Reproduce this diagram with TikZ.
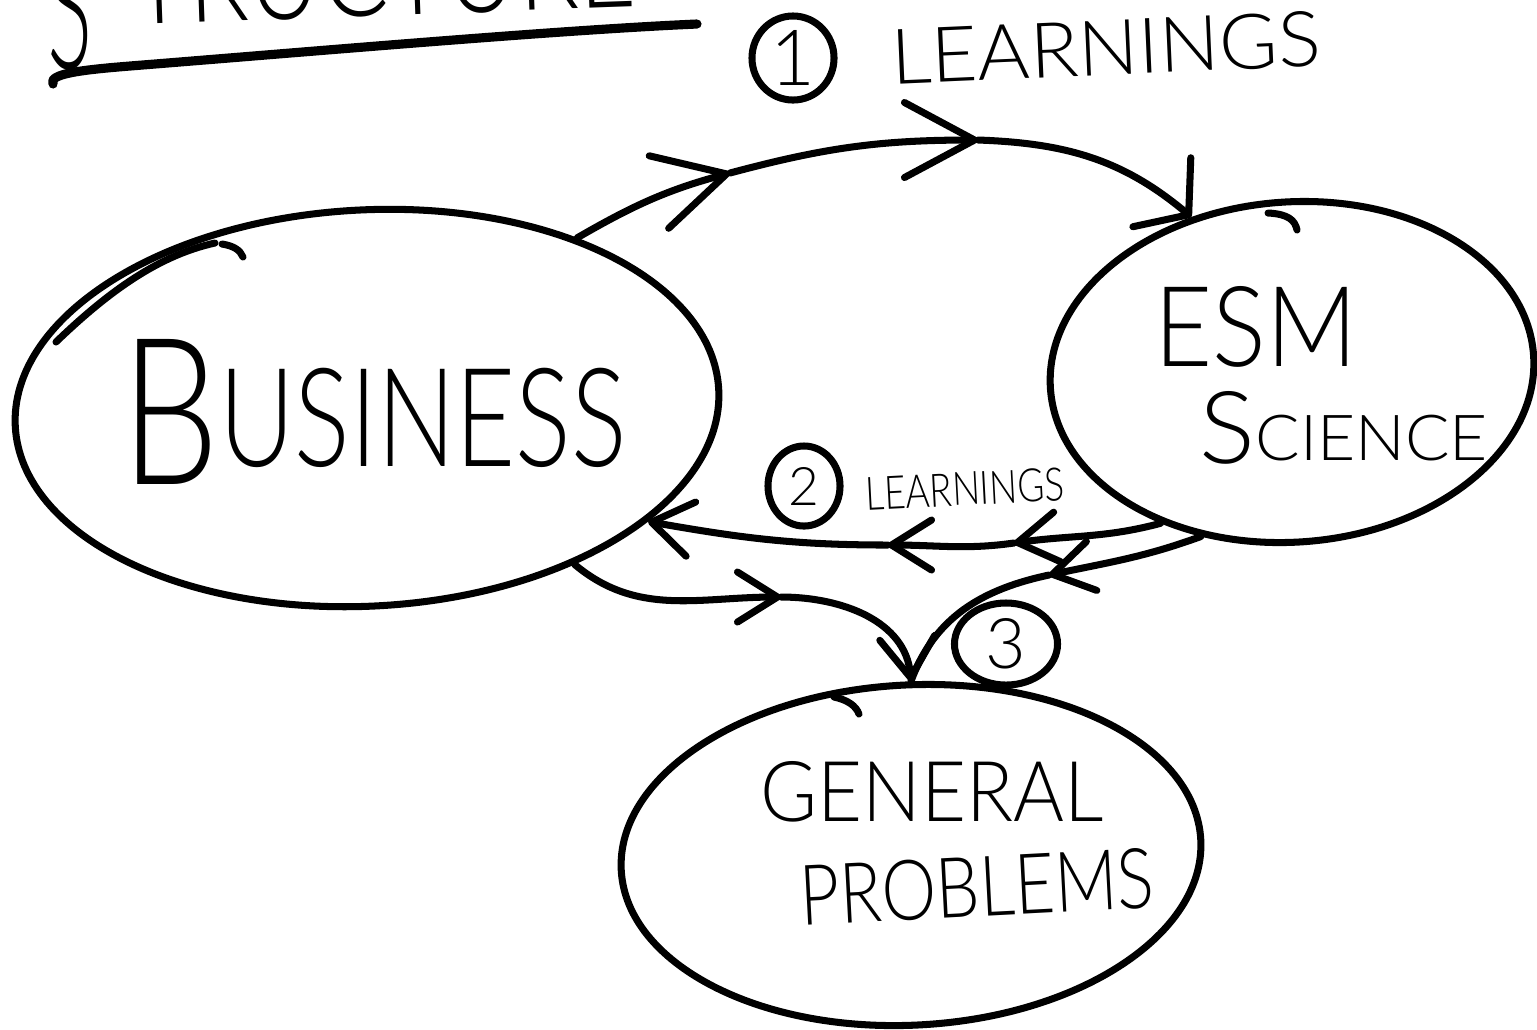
\documentclass[tikz,border=0pt]{standalone}
\usepackage{graphicx}
\usepackage{fontspec}
\newfontfamily\handfont{Lato Light}
\usetikzlibrary{arrows.meta,shapes.geometric}
\tikzset{
  blob/.style={draw, ellipse, inner sep=0pt, line width=2pt},
  lbl/.style={inner sep=0pt, font=\handfont},
  num/.style={draw, ellipse, inner sep=0pt, line width=2pt, font=\handfont},
  wire/.style={line width=2pt, line cap=round, line join=round},
  bigtip/.style={wire, -{Straight Barb[round,length=7mm,width=7.5mm]}},
  smalltip/.style={wire, -{Straight Barb[round,length=4mm,width=5mm]}},
  endtip/.style={wire, -{Straight Barb[round,length=4mm,width=5.5mm]}},
  widetip/.style={wire, -{Straight Barb[round,length=3.5mm,width=9mm]}},
  stroke/.style={line width=2pt, line cap=round, line join=round},
}
\begin{document}
\begin{tikzpicture}[x=0.01cm, y=-0.01cm]
\useasboundingbox (0,0) rectangle (1537,1029);
\clip (0,0) rectangle (1537,1029);

% title (cut off at the top, as in the original)
\node[lbl, anchor=base, rotate=2] (title) at (342,17)
  {\raisebox{-0.42cm}{\resizebox{0.45cm}{1.25cm}{S}}\hspace{0.4cm}\resizebox{5.05cm}{0.9cm}{TRUCTURE}};
\draw[stroke, line width=2.6pt] (53,84) .. controls (48,74) and (80,70) .. (130,66)
  .. controls (330,50) and (560,30) .. (697,24);

% ellipses
\node[blob, minimum width=7.04cm, minimum height=3.96cm, rotate=3] (bus) at (367,408) {};
\node[blob, minimum width=4.84cm, minimum height=3.4cm, rotate=4] (esm) at (1292,372) {};
\node[blob, minimum width=5.8cm, minimum height=3.4cm, rotate=3] (gp) at (911,855) {};

% hand-drawn overshoots of the ellipses
\draw[stroke] (56,342) .. controls (110,290) and (160,255) .. (215,243);
\draw[stroke] (222,244) .. controls (234,246) and (240,250) .. (243,257);
\draw[stroke] (1268,213) .. controls (1288,214) and (1295,220) .. (1297,230);
\draw[stroke] (834,697) .. controls (848,700) and (856,706) .. (859,714);

% texts in the ellipses
\node[lbl] (busT) at (374,412) {\resizebox{5.05cm}{1.45cm}{B\raisebox{0.09em}{\scalebox{0.67}{USINESS}}}};
\node[lbl] (esmT) at (1256,327) {\resizebox{2.03cm}{0.8cm}{ESM}};
\node[lbl] (sciT) at (1344,428) {\resizebox{2.88cm}{0.72cm}{S\raisebox{0.03em}{\scalebox{0.63}{CIENCE}}}};
\node[lbl] (genT) at (932,792) {\resizebox{3.43cm}{0.6cm}{GENERAL}};
\node[lbl, rotate=3] (probT) at (977,887) {\resizebox{3.54cm}{0.6cm}{PROBLEMS}};

% numbered labels
\node[num, minimum width=0.82cm, minimum height=0.84cm] (n1) at (793,58) {\resizebox{!}{0.55cm}{1}};
\node[lbl, rotate=2.5] (l1) at (1106,48) {\resizebox{4.3cm}{0.55cm}{LEARNINGS}};
\node[num, minimum width=0.72cm, minimum height=0.8cm] (n2) at (804,486) {\resizebox{!}{0.38cm}{2}};
\node[lbl, rotate=3] (l2) at (965,489) {\resizebox{1.99cm}{0.33cm}{LEARNINGS}};
\node[num, minimum width=1.03cm, minimum height=0.82cm] (n3) at (1006,644) {\resizebox{!}{0.5cm}{3}};

% points where mid-arrowheads sit
\coordinate (a1) at (730,173);
\coordinate (a2) at (978,140);
\coordinate (b1) at (1014,543);
\coordinate (b2) at (888,545);
\coordinate (c1) at (781,597);
\coordinate (d1) at (1049,575);

% (1) Business -> ESM Science
\draw[bigtip] (bus.36) to[out=30,in=195] (a1);
\draw[bigtip] (a1) to[out=15,in=180] (a2);
\draw[widetip] (a2) to[out=-2,in=140] (esm.119);

% (2) ESM Science -> Business
\draw[smalltip] (esm.225) to[out=195,in=8] (b1);
\draw[smalltip] (b1) to[out=188,in=0] (b2);
\draw[endtip] (b2) to[out=180,in=350] (bus.335);

% (3) both -> General problems
\draw[smalltip] (bus.320) to[out=-40,in=180] (c1);
\draw[endtip] (c1) to[out=0,in=95] (gp.87);
\draw[smalltip] (esm.237) to[out=200,in=12] (d1);
\draw[wire] (d1) to[out=192,in=70] (gp.87);
\end{tikzpicture}
\end{document}
